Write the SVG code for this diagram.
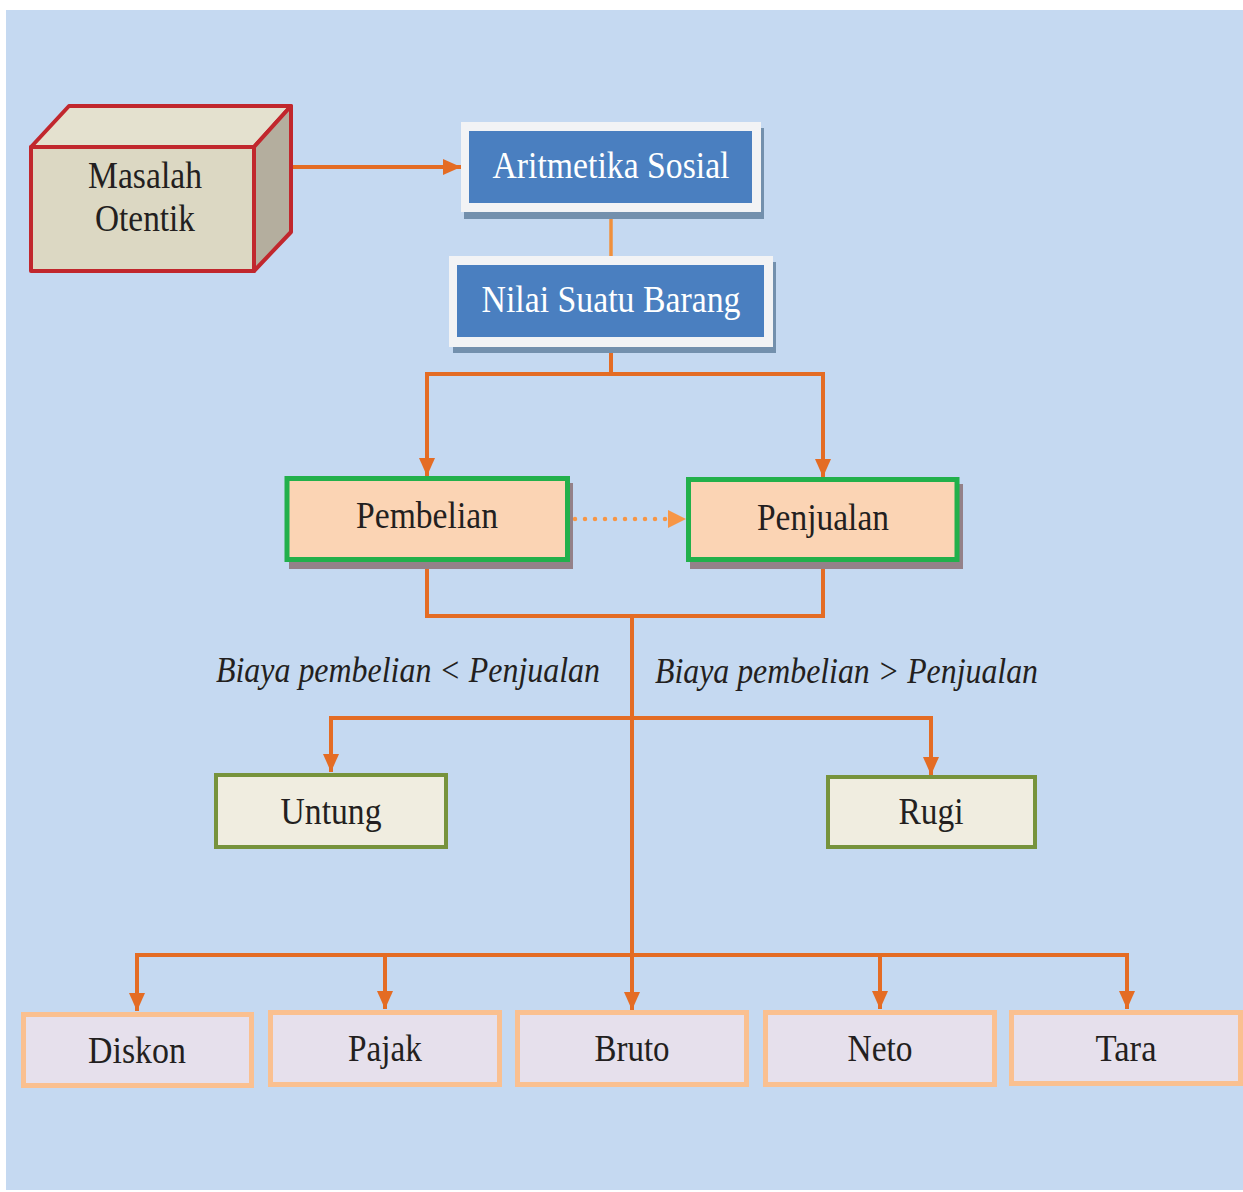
<svg xmlns="http://www.w3.org/2000/svg" width="1243" height="1192" viewBox="0 0 1243 1192">
<defs>
<style>
.t{font-family:"Liberation Serif","Times New Roman",serif;font-size:37px;fill:#231f20;text-anchor:middle}
.w{fill:#ffffff}
.i{font-style:italic;font-size:36px}
.c{fill:none;stroke:#e46c24;stroke-width:4}
.bot{fill:#e6e0ec;stroke:#fac090;stroke-width:5}
.grn{fill:#fbd4b4;stroke:#22b04b;stroke-width:5}
.olv{fill:#f0ede0;stroke:#77933c;stroke-width:4}
.box{stroke:#c1272d;stroke-width:4;stroke-linejoin:round}
</style>
<marker id="ah" markerUnits="userSpaceOnUse" markerWidth="18" markerHeight="16" refX="18" refY="8" orient="auto" viewBox="0 0 18 16">
<path d="M0,0 L18,8 L0,16 z" fill="#e46c24"/>
</marker>
<marker id="ahl" markerUnits="userSpaceOnUse" markerWidth="18" markerHeight="18" refX="18" refY="9" orient="auto" viewBox="0 0 18 18">
<path d="M0,0 L18,9 L0,18 z" fill="#f79646"/>
</marker>
</defs>
<rect x="0" y="0" width="1243" height="1192" fill="#ffffff"/>
<rect x="6" y="10" width="1237" height="1180" fill="#c5d9f1"/>

<g id="connectors">
<path class="c" d="M293,167 H461" stroke-width="3.5" marker-end="url(#ah)"/>
<path d="M611,212 V256" fill="none" stroke="#f0903c" stroke-width="3.5"/>
<path class="c" d="M611,347 V374 H427 V476" marker-end="url(#ah)"/>
<path class="c" d="M611,374 H823 V477" marker-end="url(#ah)"/>
<path d="M575,519 H666" fill="none" stroke="#f79646" stroke-width="4.5" stroke-linecap="round" stroke-dasharray="0 10"/>
<path d="M668,519 H686" fill="none" stroke="none" marker-end="url(#ahl)"/>
<path class="c" d="M427,562 V616 H823 V562"/>
<path class="c" d="M632,616 V1010" marker-end="url(#ah)"/>
<path class="c" d="M632,718 H331 V772" marker-end="url(#ah)"/>
<path class="c" d="M632,718 H931 V775" marker-end="url(#ah)"/>
<path class="c" d="M632,955 H137 V1011" marker-end="url(#ah)"/>
<path class="c" d="M385,955 V1009" marker-end="url(#ah)"/>
<path class="c" d="M632,955 H1127 V1009" marker-end="url(#ah)"/>
<path class="c" d="M880,955 V1009" marker-end="url(#ah)"/>
</g>

<g id="masalah-otentik">
<polygon class="box" points="31,147 69,106 291,106 254,147" fill="#e4e1cf"/>
<polygon class="box" points="254,147 291,106 291,232 254,271" fill="#b4ae9e"/>
<rect class="box" x="31" y="147" width="223" height="124" fill="#dcd8c3"/>
<text class="t" x="145" y="188" textLength="114" lengthAdjust="spacingAndGlyphs">Masalah</text>
<text class="t" x="145" y="231" textLength="100" lengthAdjust="spacingAndGlyphs">Otentik</text>
</g>

<g id="aritmetika-sosial">
<rect x="464" y="128" width="300" height="91" fill="#7390ad"/>
<rect x="461" y="122" width="300" height="90" fill="#f2f3f5"/>
<rect x="469" y="131" width="283" height="72" fill="#4a7fc0"/>
<text class="t w" x="611" y="178" textLength="237" lengthAdjust="spacingAndGlyphs">Aritmetika Sosial</text>
</g>

<g id="nilai-suatu-barang">
<rect x="453" y="262" width="323" height="91" fill="#7390ad"/>
<rect x="449" y="256" width="324" height="91" fill="#f2f3f5"/>
<rect x="457" y="265" width="307" height="72" fill="#4a7fc0"/>
<text class="t w" x="611" y="312" textLength="259" lengthAdjust="spacingAndGlyphs">Nilai Suatu Barang</text>
</g>

<g id="pembelian">
<rect x="289" y="483" width="284" height="86" fill="#948189"/>
<rect class="grn" x="287" y="478.5" width="280.5" height="81"/>
<text class="t" x="427" y="528" textLength="142" lengthAdjust="spacingAndGlyphs">Pembelian</text>
</g>

<g id="penjualan">
<rect x="690" y="484" width="273" height="85" fill="#948189"/>
<rect class="grn" x="688.5" y="479.5" width="268.5" height="80"/>
<text class="t" x="823" y="530" textLength="132" lengthAdjust="spacingAndGlyphs">Penjualan</text>
</g>

<g id="label-untung">
<text class="t i" x="408" y="682" textLength="384" lengthAdjust="spacingAndGlyphs">Biaya pembelian &lt; Penjualan</text>
</g>
<g id="label-rugi">
<text class="t i" x="846.5" y="683" textLength="383" lengthAdjust="spacingAndGlyphs">Biaya pembelian &gt; Penjualan</text>
</g>

<g id="untung">
<rect class="olv" x="216" y="775" width="230" height="72"/>
<text class="t" x="331" y="824" textLength="101" lengthAdjust="spacingAndGlyphs">Untung</text>
</g>

<g id="rugi">
<rect class="olv" x="828" y="777" width="207" height="70"/>
<text class="t" x="931" y="824" textLength="65" lengthAdjust="spacingAndGlyphs">Rugi</text>
</g>

<g id="diskon">
<rect class="bot" x="23.5" y="1014.5" width="228" height="71"/>
<text class="t" x="137" y="1063" textLength="98" lengthAdjust="spacingAndGlyphs">Diskon</text>
</g>
<g id="pajak">
<rect class="bot" x="270.5" y="1012.5" width="229" height="72"/>
<text class="t" x="385" y="1061" textLength="74" lengthAdjust="spacingAndGlyphs">Pajak</text>
</g>
<g id="bruto">
<rect class="bot" x="517.5" y="1012.5" width="229" height="72"/>
<text class="t" x="632" y="1061" textLength="75" lengthAdjust="spacingAndGlyphs">Bruto</text>
</g>
<g id="neto">
<rect class="bot" x="765.5" y="1012.5" width="229" height="72"/>
<text class="t" x="880" y="1061" textLength="65" lengthAdjust="spacingAndGlyphs">Neto</text>
</g>
<g id="tara">
<rect class="bot" x="1011.5" y="1012.5" width="229" height="71"/>
<text class="t" x="1126" y="1061" textLength="61" lengthAdjust="spacingAndGlyphs">Tara</text>
</g>
</svg>
